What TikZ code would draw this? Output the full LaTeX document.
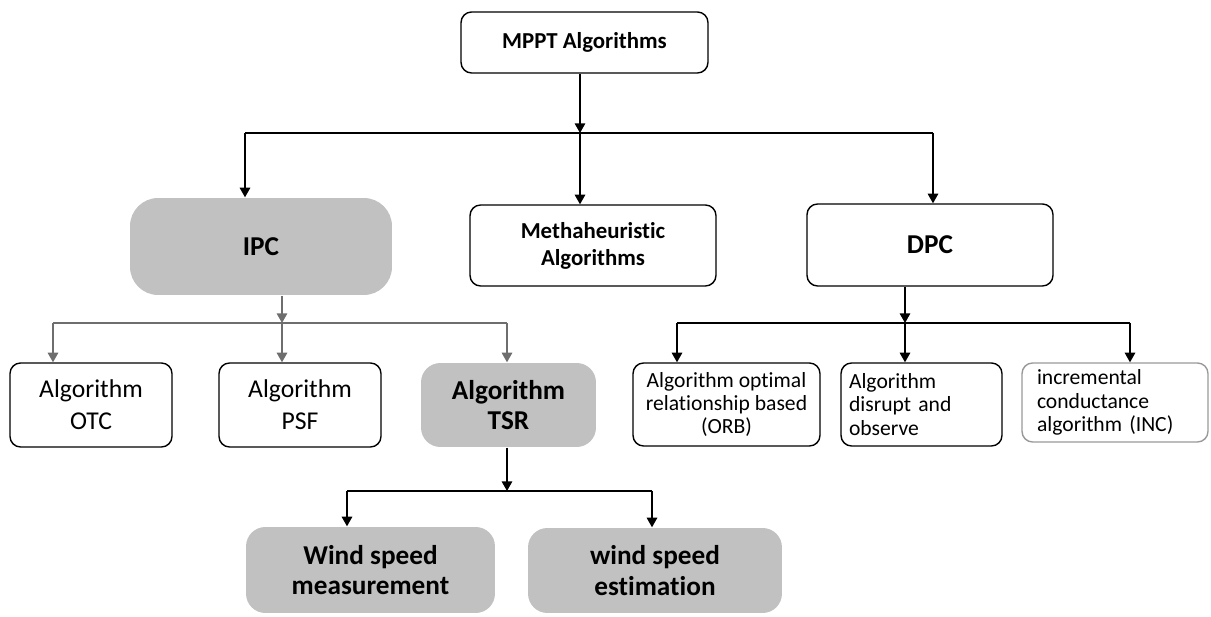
\documentclass[tikz,border=0pt]{standalone}
\usepackage{fontspec}
\setmainfont{Carlito}[Ligatures=NoCommon]
\usetikzlibrary{arrows.meta}

\definecolor{boxgray}{RGB}{193,193,193}
\definecolor{linegray}{RGB}{110,110,110}

\begin{document}
\begin{tikzpicture}[x=0.02cm, y=-0.02cm, line width=0.8pt,
  >={Triangle[length=5.5pt,width=6pt]},
  white node/.style={draw, fill=white, rounded corners=6pt, inner sep=0pt, align=center},
  gray node/.style={fill=boxgray, rounded corners=11pt, inner sep=0pt, align=center},
  head font/.style={font=\fontsize{13}{15.3}\selectfont\bfseries},
  big font/.style={font=\fontsize{15.5}{17.2}\selectfont\bfseries},
  algo font/.style={font=\fontsize{14.6}{18}\selectfont},
  small font/.style={font=\fontsize{12.3}{13.3}\selectfont}]
  \useasboundingbox (0,0) rectangle (1211,617);

  % top level
  \node[white node, head font, minimum width=4.94cm, minimum height=1.22cm] (mppt) at (584.5, 42.5) {MPPT Algorithms};
  \node[gray node, big font, rounded corners=16pt, minimum width=5.24cm, minimum height=1.94cm] (ipc) at (261, 246.5) {IPC};
  \node[white node, head font, minimum width=4.92cm, minimum height=1.62cm] (metha) at (593, 245.5) {Methaheuristic\\Algorithms};
  \node[white node, big font, minimum width=4.92cm, minimum height=1.64cm] (dpc) at (930, 245) {DPC};

  % IPC branch
  \node[white node, algo font, minimum width=3.24cm, minimum height=1.68cm] (otc) at (91, 405) {Algorithm\\OTC};
  \node[white node, algo font, minimum width=3.24cm, minimum height=1.68cm] (psf) at (300, 405) {Algorithm\\PSF};
  \node[gray node, big font, minimum width=3.5cm, minimum height=1.68cm] (tsr) at (508.5, 405) {Algorithm\\TSR};
  \node[gray node, big font, minimum width=4.98cm, minimum height=1.72cm] (wsm) at (370.5, 570) {Wind speed\\measurement};
  \node[gray node, big font, minimum width=5.08cm, minimum height=1.7cm] (wse) at (655, 570.5) {wind speed\\estimation};

  % DPC branch
  \node[white node, small font, minimum width=3.74cm, minimum height=1.66cm] (orb) at (726.5, 404.5) {Algorithm optimal\\relationship based\\(ORB)};
  \node[white node, small font, align=left, text width=2.9cm, inner xsep=0.16cm, minimum height=1.66cm] (dao) at (921.5, 404.5) {Algorithm\\disrupt and\\observe};
  \node[white node, small font, draw=black!40, align=left, text width=3.12cm, inner xsep=0.3cm, minimum height=1.58cm] (inc) at (1115, 402.5) {incremental\\conductance\\algorithm (INC)};

  % bus points
  \coordinate (top) at (580, 133);
  \coordinate (t1) at (245, 133);
  \coordinate (t3) at (933, 133);
  \coordinate (ib) at (282, 323);
  \coordinate (i1) at (53, 323);
  \coordinate (i3) at (507, 323);
  \coordinate (sb) at (507, 491);
  \coordinate (s1) at (347, 491);
  \coordinate (s3) at (652, 491);
  \coordinate (db) at (905, 323);
  \coordinate (d1) at (677, 323);
  \coordinate (d3) at (1130, 323);

  \draw (t1) -- (t3);
  \draw[linegray] (i1) -- (i3);
  \draw (s1) -- (s3);
  \draw (d1) -- (d3);

  \path[->]
    (mppt.south -| top) edge (top)
    (t1) edge (t1 |- ipc.north)
    (top) edge (top |- metha.north)
    (t3) edge (t3 |- dpc.north)
    (tsr.south -| sb) edge (sb)
    (s1) edge (s1 |- wsm.north)
    (s3) edge (s3 |- wse.north)
    (dpc.south -| db) edge (db)
    (d1) edge (d1 |- orb.north)
    (db) edge (db |- dao.north)
    (d3) edge (d3 |- inc.north);
  \path[->, linegray]
    (ipc.south -| ib) edge (ib)
    (i1) edge (i1 |- otc.north)
    (ib) edge (ib |- psf.north)
    (i3) edge (i3 |- tsr.north);
\end{tikzpicture}
\end{document}
